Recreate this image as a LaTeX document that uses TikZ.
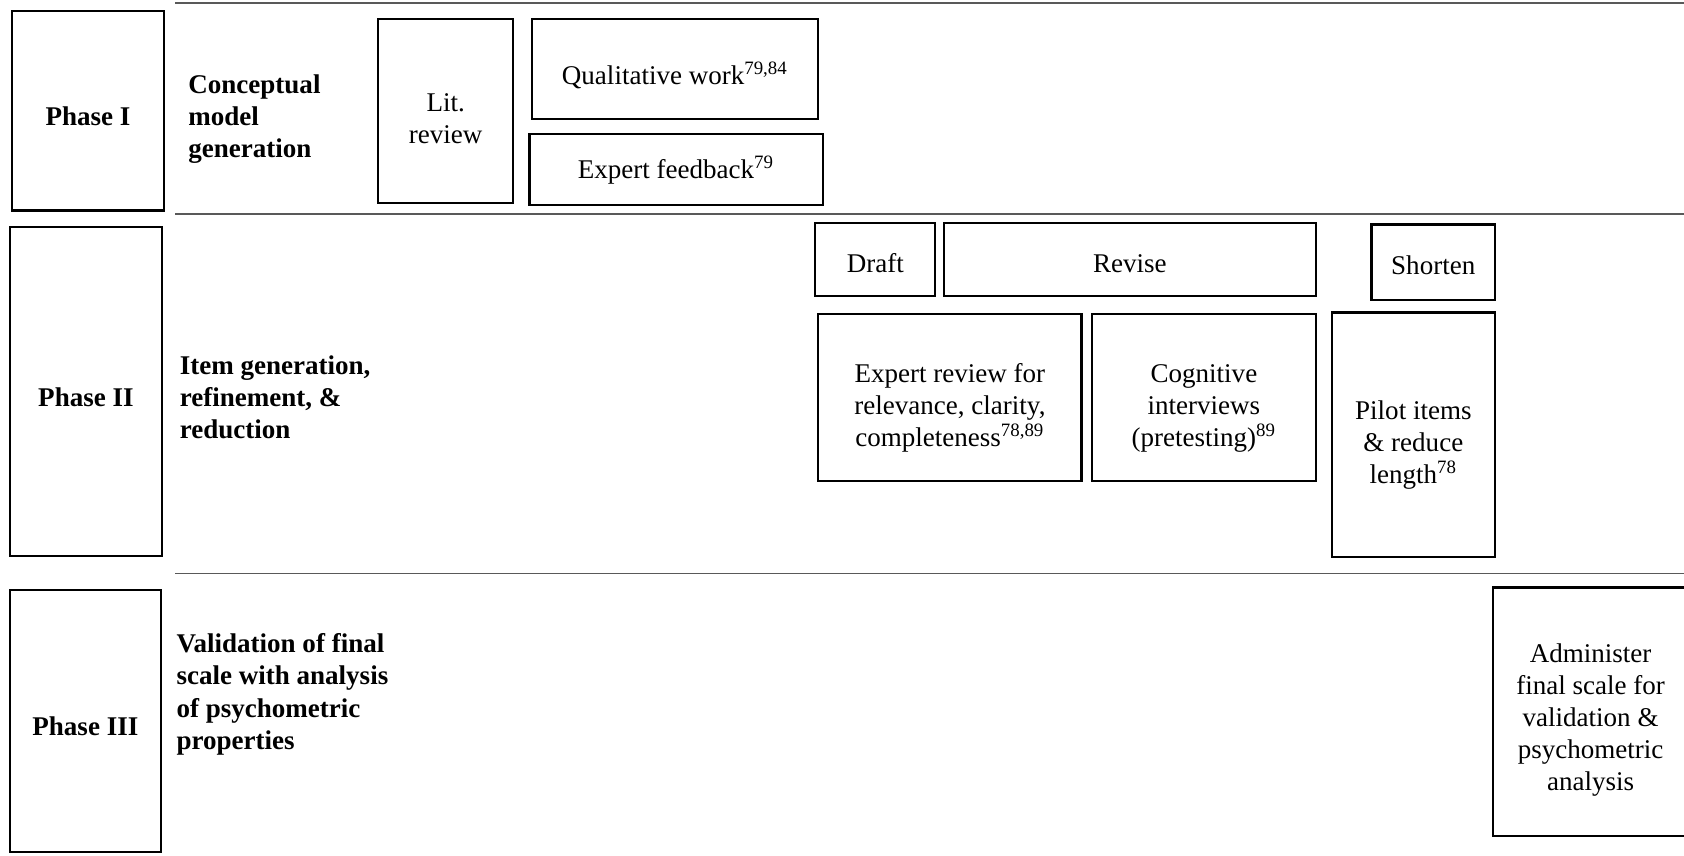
\documentclass[tikz,border=0pt]{standalone}
\usepackage{fontspec}
\setmainfont{Liberation Serif}
\newdimen\pxu
\pxu=0.0162cm
\newcommand\lift[1]{\rule{0pt}{#1}}

\begin{document}
\begin{tikzpicture}[x=0.0162cm,y=-0.0162cm,
  txt/.style={font=\fontsize{11.6}{13.8}\selectfont},
  phasebox/.style={draw,line width=0.9pt,inner sep=0pt,font=\fontsize{11.6}{13.8}\selectfont\bfseries},
  stepbox/.style={draw,line width=0.9pt,inner sep=0pt,align=center,txt},
  phaselabel/.style={anchor=west,align=left,inner sep=0pt,font=\fontsize{11.6}{13.8}\selectfont\bfseries},
  rule/.style={draw=black!65,line width=0.7pt}]
\useasboundingbox (0,0) rectangle (1568,797);

\draw[rule] (163,3) -- (1568,3);
\draw[rule] (163,199) -- (1568,199);
\draw[rule] (163,534) -- (1568,534);

\node[phasebox,minimum width=142\pxu,minimum height=186\pxu] (phaseI)   at (82,103)    {\lift{13pt}Phase I};
\node[phasebox,minimum width=142\pxu,minimum height=307\pxu] (phaseII)  at (80,364.5)  {\lift{13pt}Phase II};
\node[phasebox,minimum width=141\pxu,minimum height=244\pxu] (phaseIII) at (79.5,671)  {\lift{13pt}Phase III};

\node[phaselabel] (concept) at (175,111) {Conceptual\\model\\generation};
\node[phaselabel] (itemgen) at (167,370) {Item generation,\\refinement, \&\\reduction};
\node[phaselabel] (valid)   at (164,646.5) {Validation of final\\scale with analysis\\of psychometric\\properties};

\node[stepbox,minimum width=126\pxu,minimum height=171\pxu] (litrev) at (415,103.5) {\lift{14.4pt}Lit.\\review};
\node[stepbox,minimum width=267\pxu,minimum height=93\pxu]  (qual)   at (628.5,64.5) {\lift{15pt}Qualitative work\textsuperscript{79,84}};
\node[stepbox,minimum width=273\pxu,minimum height=66\pxu]  (expfb)  at (629.5,158)  {Expert feedback\textsuperscript{79}};

\node[stepbox,minimum width=112\pxu,minimum height=68\pxu]  (draft)   at (815,242)    {\lift{11.2pt}Draft};
\node[stepbox,minimum width=346\pxu,minimum height=68\pxu]  (revise)  at (1052,242)   {\lift{11.2pt}Revise};
\node[stepbox,minimum width=115\pxu,minimum height=70\pxu]  (shorten) at (1334.5,244) {\lift{11.2pt}Shorten};
\node[stepbox,minimum width=245\pxu,minimum height=156\pxu] (exprev)  at (884.5,370)  {\lift{17pt}Expert review for\\relevance, clarity,\\completeness\textsuperscript{78,89}};
\node[stepbox,minimum width=208\pxu,minimum height=156\pxu] (cogint)  at (1121,370)   {\lift{17pt}Cognitive\\interviews\\(pretesting)\textsuperscript{89}};
\node[stepbox,minimum width=152\pxu,minimum height=228\pxu] (pilot)   at (1316,405)   {\lift{17pt}Pilot items\\\& reduce\\length\textsuperscript{78}};

\node[stepbox,minimum width=182\pxu,minimum height=231\pxu] (admin) at (1481,662.5) {\lift{15.4pt}Administer\\final scale for\\validation \&\\psychometric\\analysis};

\end{tikzpicture}
\end{document}
